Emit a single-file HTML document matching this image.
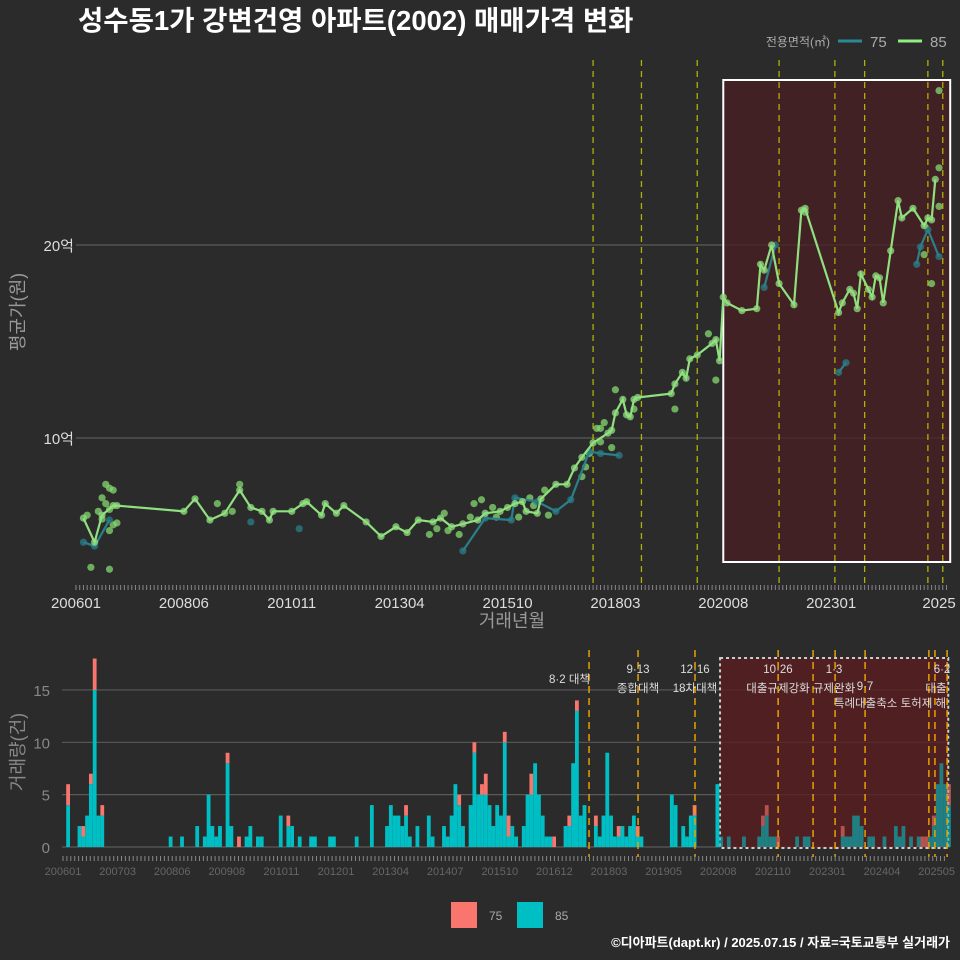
<!DOCTYPE html>
<html><head><meta charset="utf-8">
<style>
body{margin:0;background:#2b2b2b;}
svg{display:block;font-family:"Liberation Sans","Noto Sans CJK KR",sans-serif;}
</style></head>
<body>
<svg id="c" width="960" height="960" viewBox="0 0 960 960" xmlns="http://www.w3.org/2000/svg">
<rect width="960" height="960" fill="#2b2b2b"/>
<text x="78" y="30" fill="#fff" font-size="27.5" font-weight="bold">성수동1가 강변건영 아파트(2002) 매매가격 변화</text>
<g>
<text x="830" y="46" fill="#aaa" font-size="12" text-anchor="end">전용면적(㎡)</text>
<line x1="838" y1="41" x2="862" y2="41" stroke="#2a8a94" stroke-width="3"/>
<text x="870" y="47" fill="#aaa" font-size="15">75</text>
<line x1="898" y1="41" x2="922" y2="41" stroke="#90ee80" stroke-width="3"/>
<text x="930" y="47" fill="#aaa" font-size="15">85</text>
</g>
<g id="topPanel"></g>
<g id="botPanel"></g>
<g>
<rect x="451" y="902" width="26" height="26" fill="#f8766d"/>
<text x="489" y="920" fill="#aaa" font-size="12">75</text>
<rect x="517" y="902" width="26" height="26" fill="#00bfc4"/>
<text x="555" y="920" fill="#aaa" font-size="12">85</text>
</g>
<text x="950" y="947" fill="#fff" font-size="13" font-weight="bold" text-anchor="end">©디아파트(dapt.kr) / 2025.07.15 / 자료=국토교통부 실거래가</text>
</svg>
<script>
// month index from 200601
const xTickLabelsTop = ["200601","200806","201011","201304","201510","201803","202008","202301","2025"];
const xTickIdxTop = [0,29,58,87,116,145,174,203,232];
const yTicksTop = [10,20];
const yTickLabelsTop = ["10억","20억"];
const s85Idx = [2,5,7,10,11,29,32,36,40,44,47,50,52,53,58,61,62,66,67,70,72,78,82,86,89,92,96,98,101,104,108,110,114,118,120,121,124,125,129,132,134,136,139,143,144,145,147,148,149,150,151,160,161,163,164,165,167,171,172,173,174,175,179,183,184,185,187,189,193,195,196,205,206,208,209,210,211,213,214,215,216,217,219,221,222,225,228,229,230,231];
const s85Val = [5.85,4.6,6.0,6.5,6.5,6.2,6.85,5.75,6.1,7.3,6.4,6.2,5.75,6.2,6.2,6.6,6.7,6.0,6.6,6.1,6.5,5.65,4.9,5.4,5.1,5.75,5.65,5.85,5.4,5.55,5.75,6.1,6.2,6.6,6.7,6.2,6.1,6.85,7.6,7.6,8.45,9.0,9.75,10.25,10.4,11.3,12.0,11.2,11.1,12.0,12.1,12.3,12.8,13.4,13.1,14.1,14.3,14.9,15.1,14.0,17.3,17.0,16.6,16.7,19.0,18.7,20.0,18.0,16.9,21.8,21.9,16.5,17.0,17.7,17.5,16.7,18.5,17.7,17.3,18.4,18.3,17.0,19.7,22.3,21.4,21.9,21.0,21.4,21.3,23.4];
const s75aIdx = [2,5,9];
const s75aVal = [4.6,4.4,5.75];
const s75Idx = [104,110,117,118,124,129,133,138,141,146];
const s75Val = [4.15,5.85,5.75,6.9,6.7,6.2,6.8,9.3,9.2,9.1];
const s75bIdx = [185,188];
const s75bVal = [17.8,20.0];
const s75cIdx = [205,207];
const s75cVal = [13.4,13.9];
const s75dIdx = [226,227,229,232];
const s75dVal = [19.0,19.9,20.8,19.4];
const extraIdx = [4,9,47,60,8,9,10,7,8,9,10,11,3,6,7,9,44,42,38,95,97,99,100,103,106,107,109,112,113,116,119,122,123,126,127,137,138,140,141,142,144,136,141,145,161,172,232,232,232,230,228,196,150,170];
const extraVal = [3.3,3.2,5.65,5.3,7.6,7.4,7.3,6.9,6.6,6.3,5.5,5.6,6.0,6.2,5.8,5.2,7.6,6.2,6.6,5.0,5.3,6.1,5.2,5.0,5.9,6.6,6.8,6.4,5.9,6.4,5.9,6.9,6.5,7.3,6.0,8.5,9.2,10.5,9.8,10.8,9.5,8.0,10.5,12.5,11.5,13.0,28.0,24.0,22.0,18.0,19.5,21.7,11.5,15.4];
const extraIs75 = [0,0,1,1,0,0,0,0,0,0,0,0,0,0,0,0,0,0,0,0,0,0,0,0,0,0,0,0,0,0,0,0,0,0,0,0,0,0,0,0,0,0,0,0,0,0,0,0,0,0,0,0,0,0];
const eventIdx = [139,152,167,189,204,212,229,233];
// bottom bars
const barIdx = [1,4,5,6,7,8,9,10,28,31,35,37,38,39,40,41,43,44,46,48,49,51,52,57,59,60,62,65,66,70,71,77,81,85,86,87,88,89,90,91,93,96,97,100,101,102,103,104,105,107,108,109,110,111,112,113,114,115,116,117,118,119,121,122,123,124,125,126,127,128,129,132,133,134,135,136,137,140,141,142,143,144,145,146,147,148,149,150,151,152,160,161,163,164,165,166,172,173,175,179,183,184,185,186,187,188,193,195,196,205,206,207,208,209,210,212,213,216,219,220,221,223,225,226,227,228,229,230,231,232,233];
const bar85 = [4,2,1,3,6,15,3,3,1,1,2,1,5,2,1,2,8,2,0,1,2,1,1,3,2,2,1,1,1,1,1,1,4,2,4,3,3,2,3,1,2,3,1,2,1,3,6,4,2,4,9,5,5,5,4,2,4,3,10,1,2,1,2,5,5,8,5,3,1,1,0,2,2,8,13,3,4,2,1,3,9,3,1,1,2,1,2,3,1,1,5,4,2,1,3,3,6,1,1,1,1,2,3,1,1,0,1,1,1,1,1,1,3,3,2,1,1,1,2,1,2,1,1,0,0,1,2,6,8,6,4];
const bar75 = [2,0,1,0,1,3,0,1,0,0,0,0,0,0,0,0,1,0,1,0,0,0,0,0,1,0,0,0,0,0,0,0,0,0,0,0,0,0,1,0,0,0,0,0,0,0,0,1,0,0,1,0,1,2,0,0,0,0,1,2,0,0,0,0,2,0,0,0,0,0,1,0,1,0,1,0,0,1,0,0,0,0,0,1,0,0,0,0,1,0,0,0,0,0,0,1,0,0,0,0,0,1,1,0,0,1,0,0,0,1,0,0,0,0,0,0,0,0,0,0,0,0,0,1,1,0,1,0,0,0,2];
const xTickLabelsBot = ["200601","200703","200806","200908","201011","201201","201304","201407","201510","201612","201803","201905","202008","202110","202301","202404","202505"];
const yTicksBot = [0,5,10,15];
const eventIdxBot = [138.2,151.1,166.1,188,197.2,203,210.9,227.7,229.3,232.5];

const NS="http://www.w3.org/2000/svg";
function mk(tag,attrs,parent){const e=document.createElementNS(NS,tag);for(const k in attrs)e.setAttribute(k,attrs[k]);parent.appendChild(e);return e;}
const gTop=document.getElementById('topPanel'), gBot=document.getElementById('botPanel');
const xT=i=>76+3.72*i, yT=v=>438-(v-10)*19.3;
const xB=i=>64.3+3.797*i, yB=v=>847-v*10.47;
const xL=i=>63+3.9*i;

yTicksTop.forEach((v,k)=>{
  let l=mk('line',{x1:76,x2:950,y1:yT(v),y2:yT(v),stroke:'#5a5a5a','stroke-width':1.2},gTop);
  
  
  let t=mk('text',{x:74,y:yT(v)+6,fill:'#ddd','font-size':15,'text-anchor':'end'},gTop);t.textContent=yTickLabelsTop[k];
  
  
});
let hl=mk('rect',{x:xT(174),y:80,width:xT(235)-xT(174),height:482,fill:'#4a1f22','fill-opacity':0.75,stroke:'#fff','stroke-width':2},gTop);


eventIdx.forEach(i=>{let l=mk('line',{x1:xT(i),x2:xT(i),y1:60,y2:585,stroke:'#c8c800','stroke-width':1.3,'stroke-dasharray':'6 5','stroke-opacity':0.85},gTop);
 
 });
for(let i=0;i<=234;i++){let l=mk('line',{x1:xT(i),x2:xT(i),y1:585,y2:590,stroke:'#888','stroke-width':1},gTop);
 
 }
xTickIdxTop.forEach((i,k)=>{let t=mk('text',{x:xT(i),y:608,fill:'#ddd','font-size':15,'text-anchor':'middle'},gTop);t.textContent=xTickLabelsTop[k];
 
 });
let xt=mk('text',{x:512,y:627,fill:'#999','font-size':18,'text-anchor':'middle'},gTop);xt.textContent='거래년월';


let yt=mk('text',{x:24,y:312,fill:'#999','font-size':18,'text-anchor':'middle',transform:'rotate(-90 24 312)'},gTop);yt.textContent='평균가(원)';



function series(idx,val,color,name){
 let d=idx.map((i,k)=>(k?'L':'M')+xT(i).toFixed(1)+' '+yT(val[k]).toFixed(1)).join(' ');
 let p=mk('path',{d:d,fill:'none',stroke:color,'stroke-width':2.2},gTop);
 
 
 idx.forEach((i,k)=>{let c=mk('circle',{cx:xT(i),cy:yT(val[k]),r:3.6,fill:color,'fill-opacity':0.75},gTop);
  
  });
}
extraIdx.forEach((i,k)=>{let c=mk('circle',{cx:xT(i),cy:yT(extraVal[k]),r:3.6,fill:extraIs75[k]?'#2a7f8a':'#86d870','fill-opacity':0.75},gTop);
 
 });
series(s75aIdx,s75aVal,'#2a7f8a','series-75');
series(s75Idx,s75Val,'#2a7f8a','series-75');
series(s75bIdx,s75bVal,'#2a7f8a','series-75');
series(s75cIdx,s75cVal,'#2a7f8a','series-75');
series(s75dIdx,s75dVal,'#2a7f8a','series-75');
series(s85Idx,s85Val,'#90e080','series-85');

// bottom
yTicksBot.forEach(v=>{let l=mk('line',{x1:62,x2:950,y1:yB(v),y2:yB(v),stroke:'#5a5a5a','stroke-width':1.2},gBot);
 
 
 let t=mk('text',{x:50,y:yB(v)+6,fill:'#888','font-size':15,'text-anchor':'end'},gBot);t.textContent=v;
 
 });
let hb=mk('rect',{x:xB(172.7),y:658,width:xB(232.8)-xB(172.7),height:190,fill:'#5a1d1f','fill-opacity':0.8,stroke:'#ccc','stroke-width':2,'stroke-dasharray':'3 3'},gBot);


barIdx.forEach((i,k)=>{const x=xB(i)-1.9;
 const a=bar85[k]||0, b=bar75[k]||0;
 if(a>0){let r=mk('rect',{x:x,y:yB(a),width:3.8,height:yB(0)-yB(a),fill:'#00bfc4','fill-opacity':i>=173?0.6:1},gBot);
  
  }
 if(b>0){let r=mk('rect',{x:x,y:yB(a+b),width:3.8,height:yB(a)-yB(a+b),fill:'#f8766d','fill-opacity':i>=173?0.6:1},gBot);
  
  }
});
eventIdxBot.forEach(i=>{let l=mk('line',{x1:xB(i),x2:xB(i),y1:650,y2:857,stroke:'#e8a000','stroke-width':1.5,'stroke-dasharray':'7 5'},gBot);
 
 });
for(let i=0;i<=226;i++){let l=mk('line',{x1:xL(i),x2:xL(i),y1:856,y2:861,stroke:'#888','stroke-width':1},gBot);
 
 }
xTickLabelsBot.forEach((s,k)=>{let t=mk('text',{x:xL(k*14),y:875,fill:'#666','font-size':11,'text-anchor':'middle'},gBot);t.textContent=s;
 
 });
const ann=[[590,683,'8·2 대책','end'],[638,673,'9·13','middle'],[638,692,'종합대책','middle'],[695,673,'12·16','middle'],[695,692,'18차대책','middle'],[778,673,'10·26','middle'],[778,692,'대출규제강화','middle'],[834,673,'1·3','middle'],[834,692,'규제완화','middle'],[865,690,'9·7','middle'],[890,707,'특례대출축소 토허제 해','middle'],[942,673,'6·2','middle'],[936,692,'대출','middle']];
ann.forEach(a=>{let t=mk('text',{x:a[0],y:a[1],fill:'#ddd','font-size':11.5,'text-anchor':a[3]},gBot);t.textContent=a[2];
 
 });
let byt=mk('text',{x:24,y:752,fill:'#888','font-size':18,'text-anchor':'middle',transform:'rotate(-90 24 752)'},gBot);byt.textContent='거래량(건)';


</script>
</body></html>
